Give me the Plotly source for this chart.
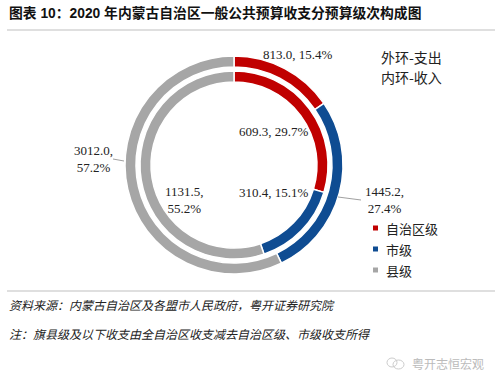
import plotly.graph_objects as go

categories = ["自治区级", "市级", "县级"]
expenditure = [813.0, 1445.2, 3012.0]   # outer ring (支出)
income = [609.3, 310.4, 1131.5]         # inner ring (收入)
exp_pct = ["15.4%", "27.4%", "57.2%"]
inc_pct = ["29.7%", "15.1%", "55.2%"]
colors = ["#C00000", "#0F4C92", "#A6A6A6"]

W, H = 500, 385
def px(x): return x / W
def py(y): return 1 - y / H

cx, cy = 234, 165
R_out, r_out = 109, 98
R_in, r_in = 94, 83

fig = go.Figure()
fig.add_trace(go.Pie(
    values=expenditure, labels=categories, sort=False, direction="clockwise", rotation=0,
    hole=r_out / R_out, textinfo="none", hoverinfo="label+value",
    marker=dict(colors=colors, line=dict(color="white", width=1.5)),
    domain=dict(x=[px(cx - R_out), px(cx + R_out)], y=[py(cy + R_out), py(cy - R_out)]),
    showlegend=False,
))
fig.add_trace(go.Pie(
    values=income, labels=categories, sort=False, direction="clockwise", rotation=0,
    hole=r_in / R_in, textinfo="none", hoverinfo="label+value",
    marker=dict(colors=colors, line=dict(color="white", width=1.5)),
    domain=dict(x=[px(cx - R_in), px(cx + R_in)], y=[py(cy + R_in), py(cy - R_in)]),
    showlegend=False,
))

serif = "Liberation Serif, Times New Roman, serif"
cjk = "Noto Sans CJK SC, sans-serif"
ann = []
def add(text, x, y, size=13, family=serif, color="#222", xanchor="center", **kw):
    ann.append(dict(text=text, x=px(x), y=py(y), xref="paper", yref="paper",
                    showarrow=False, xanchor=xanchor, yanchor="middle",
                    font=dict(size=size, family=family, color=color), **kw))

# data labels
add(f"{expenditure[0]:.1f}, {exp_pct[0]}", 298, 55)
add(f"{income[0]:.1f}, {inc_pct[0]}", 273.5, 131)
add(f"{income[1]:.1f}, {inc_pct[1]}", 274, 193)
add(f"{expenditure[1]:.1f},<br>{exp_pct[1]}", 384, 200)
add(f"{expenditure[2]:.1f},<br>{exp_pct[2]}", 93, 159)
add(f"{income[2]:.1f},<br>{inc_pct[2]}", 184, 199.5)

# ring notes
add("外环-支出", 379, 57, size=14, family=cjk, xanchor="left")
add("内环-收入", 379, 77, size=14, family=cjk, xanchor="left")

# title & footer
add("<b>图表 10：2020 年内蒙古自治区一般公共预算收支分预算级次构成图</b>", 7, 13, size=13.8,
    family="Liberation Sans, " + cjk, color="#111", xanchor="left")
add("<i>资料来源：内蒙古自治区及各盟市人民政府，粤开证券研究院</i>", 7, 304, size=12,
    family=cjk, color="#222", xanchor="left")
add("<i>注：旗县级及以下收支由全自治区收支减去自治区级、市级收支所得</i>", 7, 333, size=12,
    family=cjk, color="#222", xanchor="left")
add("粤开志恒宏观", 410, 363, size=12, family=cjk, color="#BBBBBB", xanchor="left")

shapes = []
# legend
for i, (c, col) in enumerate(zip(categories, colors)):
    yy = 228 + 21 * i
    shapes.append(dict(type="rect", xref="paper", yref="paper",
                       x0=px(373), x1=px(378), y0=py(yy + 2.5), y1=py(yy - 2.5),
                       fillcolor=col, line=dict(width=0)))
    add(c, 384, yy, size=13, family=cjk, xanchor="left")

# leader lines
shapes.append(dict(type="line", xref="paper", yref="paper", x0=px(338), y0=py(197),
                   x1=px(361), y1=py(200), line=dict(color="#A0A0A0", width=1)))
shapes.append(dict(type="line", xref="paper", yref="paper", x0=px(113), y0=py(159),
                   x1=px(124), y1=py(161), line=dict(color="#A0A0A0", width=1)))
# rules
shapes.append(dict(type="line", xref="paper", yref="paper", x0=px(7), x1=px(495),
                   y0=py(30), y1=py(30), line=dict(color="#BFBFBF", width=1)))
shapes.append(dict(type="line", xref="paper", yref="paper", x0=px(7), x1=px(495),
                   y0=py(291), y1=py(291), line=dict(color="#BFBFBF", width=1)))
# watermark icon
shapes.append(dict(type="circle", xref="paper", yref="paper", x0=px(387), x1=px(397),
                   y0=py(367), y1=py(358), line=dict(color="#CCCCCC", width=1)))
shapes.append(dict(type="circle", xref="paper", yref="paper", x0=px(393), x1=px(404),
                   y0=py(369), y1=py(360), line=dict(color="#CCCCCC", width=1)))

fig.update_layout(width=W, height=H, margin=dict(l=0, r=0, t=0, b=0),
                  paper_bgcolor="white", plot_bgcolor="white",
                  annotations=ann, shapes=shapes, showlegend=False)
fig.write_html("out.html")
